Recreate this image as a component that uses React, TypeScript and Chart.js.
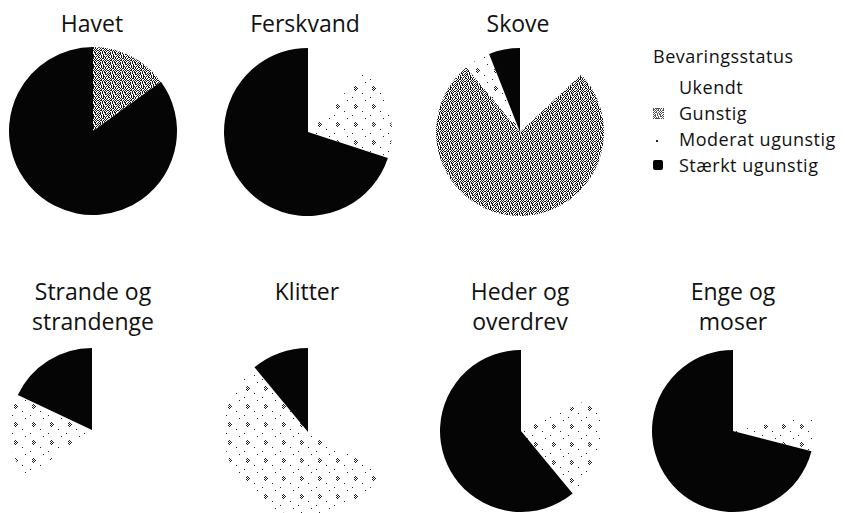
import React, { useEffect, useRef } from "react";
import { Chart, registerables } from "chart.js";

Chart.register(...registerables);

const categories = ["Ukendt", "Gunstig", "Moderat ugunstig", "Stærkt ugunstig"];

const havet = [0, 15, 0, 85];
const ferskvand = [12, 0, 18, 70];
const skove = [13, 76, 5, 6];
const strande = [65, 0, 17, 18];
const klitter = [33, 0, 56, 11];
const heder = [18, 0, 21, 61];
const enge = [22, 0, 7, 71];

const legendTitle = "Bevaringsstatus";

const gunstigTile = [
  "x.x.x.x..x",
  ".x.xx.x.x.",
  "x.x..x.x..",
  ".xx.x.x.xx",
  "x..x.x.x..",
  ".x.x.xx..x",
  "xx.x..x.x.",
  ".x..x.xx.x",
  "x.x.x...x.",
  "..x.xx.x.x",
];

const moderatTile = [
  "..................",
  "..................",
  ".....x............",
  "....x.x...........",
  ".....x.x..........",
  "....x.x...........",
  ".....x............",
  "..................",
  "..................",
  "............x.....",
  "..................",
  "..................",
  "..................",
  "..x...............",
  "..................",
  "..................",
  "...............x..",
  "..................",
];

function makeTile(rows: string[], ink: string): HTMLCanvasElement {
  const c = document.createElement("canvas");
  c.width = rows[0].length;
  c.height = rows.length;
  const ctx = c.getContext("2d")!;
  ctx.fillStyle = "#ffffff";
  ctx.fillRect(0, 0, c.width, c.height);
  ctx.fillStyle = ink;
  rows.forEach((r, y) =>
    r.split("").forEach((ch, x) => {
      if (ch === "x") ctx.fillRect(x, y, 1, 1);
    })
  );
  return c;
}

type PieProps = { values: number[]; cx: number; cy: number; r: number };

function Pie({ values, cx, cy, r }: PieProps) {
  const ref = useRef<HTMLCanvasElement | null>(null);
  useEffect(() => {
    const canvas = ref.current!;
    const ctx = canvas.getContext("2d")!;
    const gp = ctx.createPattern(makeTile(gunstigTile, "#1a1a1a"), "repeat")!;
    const mp = ctx.createPattern(makeTile(moderatTile, "#222222"), "repeat")!;
    const chart = new Chart(canvas, {
      type: "pie",
      data: {
        labels: categories,
        datasets: [
          {
            data: values,
            backgroundColor: ["#ffffff", gp as any, mp as any, "#050505"],
            borderWidth: 0,
          },
        ],
      },
      options: {
        responsive: false,
        animation: false,
        layout: { padding: 0 },
        plugins: { legend: { display: false }, tooltip: { enabled: false } },
      },
    });
    return () => chart.destroy();
  }, []);
  const size = r * 2;
  return (
    <canvas
      ref={ref}
      width={size}
      height={size}
      style={{ position: "absolute", left: cx - r, top: cy - r, width: size, height: size }}
    />
  );
}

const titleFont = "'Open Sans', 'Noto Sans', sans-serif";

function Title({ lines, cx, top }: { lines: string[]; cx: number; top: number }) {
  return (
    <div
      style={{
        position: "absolute",
        left: cx - 100,
        top,
        width: 200,
        textAlign: "center",
        fontFamily: titleFont,
        fontSize: 23,
        lineHeight: "30px",
        color: "#111",
      }}
    >
      {lines.map((l, i) => (
        <div key={i}>{l}</div>
      ))}
    </div>
  );
}

function Marker({ kind }: { kind: number }) {
  if (kind === 0) return <span style={{ display: "inline-block", width: 11 }} />;
  if (kind === 1) {
    const url = makeTile(gunstigTile, "#555").toDataURL();
    return (
      <span
        style={{
          display: "inline-block",
          width: 9,
          height: 9,
          border: "1px dotted #444",
          backgroundImage: `url(${url})`,
        }}
      />
    );
  }
  if (kind === 2)
    return (
      <span style={{ display: "inline-block", width: 11, height: 11, position: "relative" }}>
        <span style={{ position: "absolute", left: 3, top: 6, width: 2, height: 2, background: "#222" }} />
      </span>
    );
  return <span style={{ display: "inline-block", width: 10, height: 10, background: "#000", borderRadius: 2 }} />;
}

export default function App() {
  return (
    <div style={{ position: "absolute", left: 0, top: 0, width: 845, height: 513, background: "#fff", overflow: "hidden" }}>
      <Title lines={["Havet"]} cx={92} top={8} />
      <Title lines={["Ferskvand"]} cx={305} top={8} />
      <Title lines={["Skove"]} cx={518} top={8} />
      <Title lines={["Strande og", "strandenge"]} cx={93} top={276} />
      <Title lines={["Klitter"]} cx={307} top={276} />
      <Title lines={["Heder og", "overdrev"]} cx={520} top={276} />
      <Title lines={["Enge og", "moser"]} cx={733} top={276} />

      <Pie values={havet} cx={93} cy={131} r={84} />
      <Pie values={ferskvand} cx={308} cy={132} r={84} />
      <Pie values={skove} cx={520} cy={132} r={84} />
      <Pie values={strande} cx={92} cy={430} r={82} />
      <Pie values={klitter} cx={308} cy={432} r={84} />
      <Pie values={heder} cx={521} cy={431} r={81} />
      <Pie values={enge} cx={733} cy={431} r={81} />

      <div
        style={{
          position: "absolute",
          left: 653,
          top: 43,
          fontFamily: titleFont,
          fontSize: 18,
          letterSpacing: 0.5,
          lineHeight: "26px",
          color: "#111",
          whiteSpace: "nowrap",
        }}
      >
        <div style={{ marginBottom: 5 }}>{legendTitle}</div>
        {categories.map((c, i) => (
          <div key={c} style={{ display: "flex", alignItems: "center", height: 26 }}>
            <span style={{ width: 26, display: "inline-flex", alignItems: "center" }}>
              <Marker kind={i} />
            </span>
            <span>{c}</span>
          </div>
        ))}
      </div>
    </div>
  );
}
